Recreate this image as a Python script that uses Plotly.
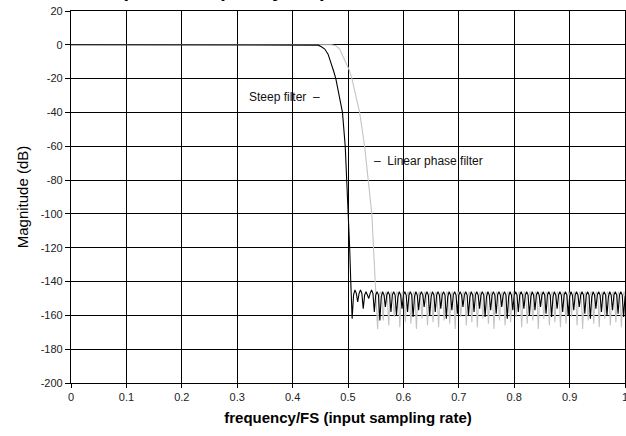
import plotly.graph_objects as go

# Steep filter (black): passband + transition band
steep_freq = [0.0, 0.1, 0.2, 0.3, 0.4, 0.44, 0.446, 0.452, 0.458, 0.464, 0.470,
              0.474, 0.478, 0.484, 0.490, 0.495, 0.498, 0.500, 0.503, 0.505, 0.5055]
steep_db = [0, 0, 0, 0, 0, 0, -0.2, -1.2, -2.5, -5.5, -11,
            -15.5, -20, -30, -40, -60, -80, -100, -120, -140, -146]

# Steep filter stopband, one row per lobe: trough, shoulder, peak, shoulder
steep_stop_start = 0.5075
steep_stop_db = [
    -162, -148, -145, -147, -152, -147, -145, -147, -156, -148, -146, -148,
    -150, -147, -145, -147, -158, -148, -146, -148, -163, -149, -146, -148,
    -155, -148, -146, -148, -158, -148, -146, -148, -160, -149, -146, -148,
    -156, -148, -146, -148, -158, -148, -146, -148, -161, -149, -146, -148,
    -157, -148, -146, -148, -155, -148, -146, -148, -160, -149, -146, -148,
    -158, -148, -146, -148, -156, -148, -146, -148, -162, -149, -146, -148,
    -157, -148, -146, -148, -159, -148, -146, -148, -155, -148, -146, -148,
    -160, -149, -146, -148, -158, -148, -146, -148, -156, -148, -146, -148,
    -161, -149, -146, -148, -157, -148, -146, -148, -159, -148, -146, -148,
    -155, -148, -146, -148, -162, -149, -146, -148, -157, -148, -146, -148,
    -158, -148, -146, -148, -156, -148, -146, -148, -160, -149, -146, -148,
    -157, -148, -146, -148, -155, -148, -146, -148, -159, -148, -146, -148,
    -161, -149, -146, -148, -156, -148, -146, -148, -158, -148, -146, -148,
    -160, -149, -146, -148, -157, -148, -146, -148, -155, -148, -146, -148,
    -159, -148, -146, -148, -162, -149, -146, -148, -156, -148, -146, -148,
    -158, -148, -146, -148, -160, -149, -146, -148, -157, -148, -146, -148,
    -159, -148, -146, -148, -161, -149, -146, -148,
]

# Linear phase filter (grey): passband + transition band
linear_freq = [0.0, 0.1, 0.2, 0.3, 0.4, 0.47, 0.478, 0.485, 0.491, 0.496, 0.502,
               0.507, 0.512, 0.521, 0.530, 0.537, 0.543, 0.546, 0.549, 0.551]
linear_db = [0, 0, 0, 0, 0, 0, -0.6, -2.5, -6.9, -10.5, -14.7,
             -20, -26.5, -40, -60, -80, -100, -120, -140, -150]

# Linear phase filter stopband, one row per lobe: trough, shoulder, peak, shoulder
linear_stop_start = 0.5535
linear_stop_db = [
    -168, -149, -146, -148, -163, -149, -146, -149, -166, -149, -146, -149,
    -161, -149, -146, -148, -167, -149, -146, -149, -164, -149, -146, -149,
    -165, -149, -146, -149, -168, -149, -146, -149, -162, -149, -146, -148,
    -166, -149, -146, -149, -164, -149, -146, -149, -167, -149, -146, -149,
    -163, -149, -146, -148, -165, -149, -146, -149, -168, -149, -146, -149,
    -161, -149, -146, -148, -166, -149, -146, -149, -164, -149, -146, -149,
    -167, -149, -146, -149, -162, -149, -146, -148, -165, -149, -146, -149,
    -168, -149, -146, -149, -163, -149, -146, -148, -166, -149, -146, -149,
    -164, -149, -146, -149, -161, -149, -146, -148, -167, -149, -146, -149,
    -165, -149, -146, -149, -163, -149, -146, -148, -168, -149, -146, -149,
    -162, -149, -146, -148, -166, -149, -146, -149, -164, -149, -146, -149,
    -167, -149, -146, -149, -165, -149, -146, -149, -161, -149, -146, -148,
    -166, -149, -146, -149, -168, -149, -146, -149, -163, -149, -146, -148,
    -165, -149, -146, -149, -167, -149, -146, -149, -162, -149, -146, -148,
    -166, -149, -146, -149, -164, -149, -146, -149, -167, -149, -146, -149,
]

STEP = 0.0025
steep_all_freq = steep_freq + [round(steep_stop_start + STEP * i, 5) for i in range(len(steep_stop_db))]
steep_all_db = steep_db + steep_stop_db
linear_all_freq = linear_freq + [round(linear_stop_start + STEP * i, 5) for i in range(len(linear_stop_db))]
linear_all_db = linear_db + linear_stop_db

x_ticks = [0, 0.1, 0.2, 0.3, 0.4, 0.5, 0.6, 0.7, 0.8, 0.9, 1]
x_tick_text = ["0", "0.1", "0.2", "0.3", "0.4", "0.5", "0.6", "0.7", "0.8", "0.9", "1"]
y_ticks = [20, 0, -20, -40, -60, -80, -100, -120, -140, -160, -180, -200]
y_tick_text = ["20", "0", "-20", "-40", "-60", "-80", "-100", "-120", "-140", "-160", "-180", "-200"]

fig = go.Figure()

fig.add_trace(
    go.Scatter(
        x=linear_all_freq,
        y=linear_all_db,
        mode="lines",
        line={"color": "#c4c4c4", "width": 1.1},
        name="Linear phase filter",
    )
)

fig.add_trace(
    go.Scatter(
        x=steep_all_freq,
        y=steep_all_db,
        mode="lines",
        line={"color": "#000000", "width": 1.1},
        name="Steep filter",
    )
)

fig.add_annotation(
    x=0.317, y=-31, xref="x", yref="y",
    text="Steep filter  \u2013", showarrow=False,
    xanchor="left", yanchor="middle",
    font={"family": "Liberation Sans", "size": 12, "color": "#111"},
)
fig.add_annotation(
    x=0.5425, y=-69, xref="x", yref="y",
    text="\u2013  Linear phase filter", showarrow=False,
    xanchor="left", yanchor="middle",
    font={"family": "Liberation Sans", "size": 12, "color": "#111"},
)
# title, mostly cut off above the top edge of the page
fig.add_annotation(
    x=0.011, y=1.022, xref="paper", yref="paper",
    text="<b>Composite frequency response</b>", showarrow=False,
    xanchor="left", yanchor="bottom",
    font={"family": "Liberation Sans", "size": 20, "color": "#000"},
)

fig.update_layout(
    width=626,
    height=436,
    margin={"l": 71, "r": 1, "t": 11, "b": 53},
    paper_bgcolor="white",
    plot_bgcolor="white",
    showlegend=False,
    font={"family": "Liberation Sans", "size": 11, "color": "#222"},
    xaxis={
        "range": [0, 1],
        "tickvals": x_ticks,
        "ticktext": x_tick_text,
        "ticklabeloverflow": "allow",
        "automargin": False,
        "showgrid": True,
        "gridcolor": "#000",
        "gridwidth": 1.2,
        "zeroline": False,
        "showline": True,
        "linecolor": "#000",
        "linewidth": 1.2,
        "mirror": True,
        "ticks": "outside",
        "ticklen": 4,
        "tickcolor": "#000",
        "title": {
            "text": "<b>frequency/FS (input sampling rate)</b>",
            "font": {"family": "Liberation Sans", "size": 15, "color": "#000"},
            "standoff": 10,
        },
    },
    yaxis={
        "range": [-200, 20],
        "tickvals": y_ticks,
        "ticktext": y_tick_text,
        "automargin": False,
        "showgrid": True,
        "gridcolor": "#000",
        "gridwidth": 1.2,
        "zeroline": True,
        "zerolinecolor": "#000",
        "zerolinewidth": 1.2,
        "showline": True,
        "linecolor": "#000",
        "linewidth": 1.2,
        "mirror": True,
        "ticks": "outside",
        "ticklen": 5,
        "tickcolor": "#000",
        "title": {
            "text": "Magnitude (dB)",
            "font": {"family": "Liberation Sans", "size": 15, "color": "#000"},
            "standoff": 8,
        },
    },
)

fig.write_html(
    "out.html",
    config={"displayModeBar": False},
    post_script="document.body.style.margin = '0px';",
)
